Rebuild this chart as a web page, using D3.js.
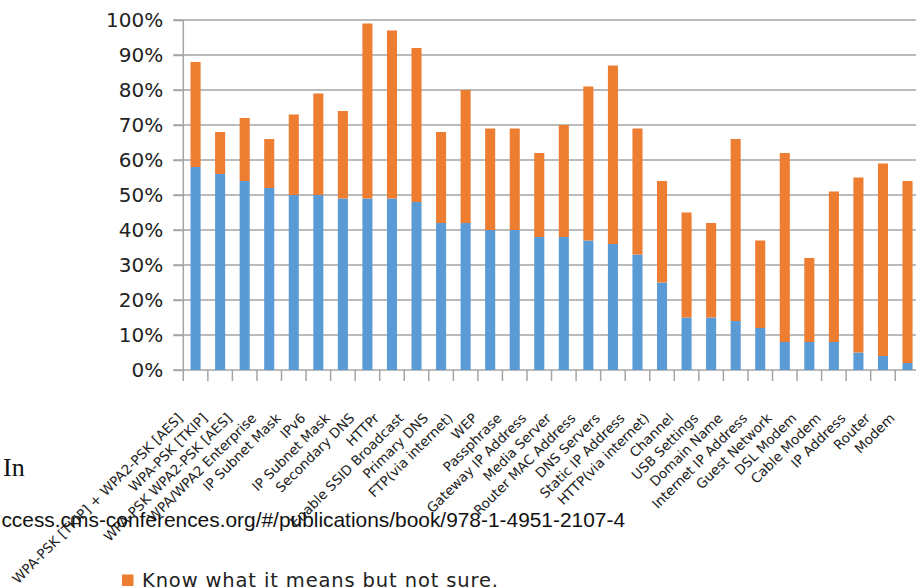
<!DOCTYPE html>
<html>
<head>
<meta charset="utf-8">
<script src="https://cdn.jsdelivr.net/npm/d3@7"></script>
<style>
  html, body { margin: 0; padding: 0; background: #ffffff; overflow: hidden; }
  svg { display: block; }
</style>
</head>
<body>
<svg id="chart" width="916" height="588"></svg>
<script>
// Router settings awareness survey: share of respondents per setting
const categories = [
  "WPA-PSK [TKIP] + WPA2-PSK [AES]", "WPA-PSK [TKIP]", "WPA-PSK WPA2-PSK [AES]",
  "WPA/WPA2 Enterprise", "IP Subnet Mask", "IPv6", "IP Subnet Mask", "Secondary DNS",
  "HTTPr", "Enable SSID Broadcast", "Primary DNS", "FTP(via internet)", "WEP",
  "Passphrase", "Gateway IP Address", "Media Server", "Router MAC Address",
  "DNS Servers", "Static IP Address", "HTTP(via internet)", "Channel", "USB Settings",
  "Domain Name", "Internet IP Address", "Guest Network", "DSL Modem", "Cable Modem",
  "IP Address", "Router", "Modem"
];

// Percent who know what the setting means and are sure
const knowSure = [58, 56, 54, 52, 50, 50, 49, 49, 49, 48, 42, 42, 40, 40, 38,
                  38, 37, 36, 33, 25, 15, 15, 14, 12, 8, 8, 8, 5, 4, 2];

// Percent who know what it means but are not sure (stacked on top)
const knowNotSure = [30, 12, 18, 14, 23, 29, 25, 50, 48, 44, 26, 38, 29, 29, 24,
                     32, 44, 51, 36, 29, 30, 27, 52, 25, 54, 24, 43, 50, 55, 52];

const yTicks = [0, 10, 20, 30, 40, 50, 60, 70, 80, 90, 100];

const seriesKeys = ["sure", "notSure"];
const seriesColors = { sure: "#5B9BD5", notSure: "#ED7D31" };
const legendLabel = "Know what it means but not sure.";

// Build rows for the stack layout
const rows = categories.map((c, i) => ({
  idx: i, cat: c, sure: knowSure[i], notSure: knowNotSure[i]
}));
const stacked = d3.stack().keys(seriesKeys)(rows);

const svg = d3.select("#chart");

const plotLeft = 183.3, plotRight = 919.8, plotTop = 20, plotBottom = 370;

const x = d3.scaleBand()
  .domain(rows.map(d => d.idx))
  .range([plotLeft, plotRight])
  .paddingInner(0.59)
  .paddingOuter(0.295);

const slot = d3.scaleBand()
  .domain(rows.map(d => d.idx))
  .range([plotLeft, plotRight])
  .padding(0);

const y = d3.scaleLinear().domain([0, 100]).range([plotBottom, plotTop]);

const gridColor = "#a5a5a5";
const textColor = "#222222";

// Horizontal gridlines
svg.append("g")
  .selectAll("line")
  .data(yTicks)
  .join("line")
  .attr("x1", plotLeft - 10)
  .attr("x2", plotRight)
  .attr("y1", d => y(d))
  .attr("y2", d => y(d))
  .attr("stroke", gridColor)
  .attr("stroke-width", 1.5);

// Stacked bars
svg.append("g")
  .selectAll("g")
  .data(stacked)
  .join("g")
  .attr("fill", s => seriesColors[s.key])
  .selectAll("rect")
  .data(s => s)
  .join("rect")
  .attr("x", d => x(d.data.idx))
  .attr("width", x.bandwidth())
  .attr("y", d => y(d[1]))
  .attr("height", d => y(d[0]) - y(d[1]));

// Y axis
const yAxis = d3.axisLeft(y)
  .tickValues(yTicks)
  .tickFormat(d => d + "%")
  .tickSize(10)
  .tickPadding(10);

const yg = svg.append("g")
  .attr("transform", `translate(${plotLeft},0)`)
  .call(yAxis);
yg.select(".domain").remove();
yg.selectAll(".tick line").attr("stroke", gridColor).attr("stroke-width", 1.5);
yg.selectAll(".tick text")
  .attr("fill", textColor)
  .style("font-family", "'DejaVu Sans', sans-serif")
  .style("font-size", "20px");

// Vertical axis line
svg.append("line")
  .attr("x1", plotLeft).attr("x2", plotLeft)
  .attr("y1", plotTop).attr("y2", plotBottom + 11)
  .attr("stroke", gridColor).attr("stroke-width", 1.5);

// Category boundary ticks on the x axis
const boundaries = rows.map(d => slot(d.idx)).concat([plotRight]);
svg.append("g")
  .selectAll("line")
  .data(boundaries.slice(1))
  .join("line")
  .attr("x1", d => d).attr("x2", d => d)
  .attr("y1", plotBottom).attr("y2", plotBottom + 11)
  .attr("stroke", gridColor).attr("stroke-width", 1.5);

// Rotated category labels
svg.append("g")
  .selectAll("text")
  .data(rows)
  .join("text")
  .attr("transform", d => {
    const cx = slot(d.idx) + slot.bandwidth() / 2;
    return `translate(${cx - 12},${419}) rotate(-45)`;
  })
  .attr("text-anchor", "end")
  .attr("fill", textColor)
  .style("font-family", "'DejaVu Sans', sans-serif")
  .style("font-size", "13.5px")
  .text(d => d.cat);

// Surrounding page text
svg.append("text")
  .attr("x", 3).attr("y", 476)
  .attr("fill", "#111")
  .style("font-family", "'Liberation Serif', serif")
  .style("font-size", "26px")
  .text("In");

svg.append("text")
  .attr("x", 625).attr("y", 527)
  .attr("text-anchor", "end")
  .attr("fill", "#111")
  .style("font-family", "'Liberation Sans', Arial, sans-serif")
  .style("font-size", "20.9px")
  .text("ccess.cms-conferences.org/#/publications/book/978-1-4951-2107-4");

// Legend entry
const lg = svg.append("g");
lg.append("rect")
  .attr("x", 122).attr("y", 574.5)
  .attr("width", 11.5).attr("height", 11.5)
  .attr("fill", seriesColors.notSure);
lg.append("text")
  .attr("x", 142).attr("y", 586.5)
  .attr("fill", textColor)
  .attr("textLength", 356)
  .attr("lengthAdjust", "spacing")
  .style("font-family", "'DejaVu Sans', sans-serif")
  .style("font-size", "19.5px")
  .text(legendLabel);
</script>
</body>
</html>
